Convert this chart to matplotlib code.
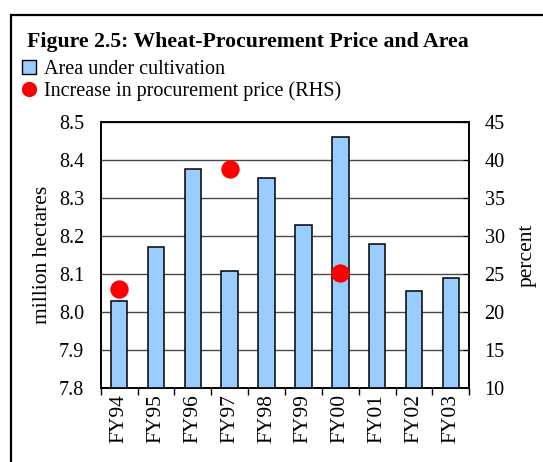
import matplotlib
matplotlib.use("Agg")
import matplotlib.pyplot as plt
import numpy as np
from matplotlib.patches import Rectangle, Patch
from matplotlib.lines import Line2D

plt.rcParams['font.family'] = ['Liberation Serif', 'DejaVu Serif']

categories = ["FY94", "FY95", "FY96", "FY97", "FY98", "FY99", "FY00", "FY01", "FY02", "FY03"]
area = [8.03, 8.17, 8.377, 8.109, 8.352, 8.229, 8.46, 8.179, 8.055, 8.09]
price_cats = ["FY94", "FY97", "FY00"]
price_increase = [23.1, 38.75, 25.1]
left_ticks = [7.8, 7.9, 8.0, 8.1, 8.2, 8.3, 8.4, 8.5]
right_ticks = [10, 15, 20, 25, 30, 35, 40, 45]

W, H = 543, 462
fig = plt.figure(figsize=(W / 100, H / 100), dpi=100)

# outer frame (only left and top visible)
fig.patches.append(Rectangle((11 / W, -0.2), 2.0, (1 - 15 / H) + 0.2,
                             transform=fig.transFigure, fill=False,
                             edgecolor='black', linewidth=1.6))

ax_l, ax_r, ax_t, ax_b = 100.7, 469.3, 121.7, 388.3
ax = fig.add_axes([ax_l / W, 1 - ax_b / H, (ax_r - ax_l) / W, (ax_b - ax_t) / H])
x = np.arange(len(categories))
ax.bar(x, area, width=0.45, color='#99CCFF', edgecolor='black', linewidth=1.1, zorder=3)
ax.set_ylim(7.8, 8.5)
ax.set_yticks(left_ticks)
ax.set_yticklabels([f"{v:.1f}" for v in left_ticks], fontsize=14.5)
ax.set_xlim(-0.5, len(categories) - 0.5)
ax.set_xticks(x)
ax.set_xticklabels(categories, rotation=90, fontsize=15.5)
ax.set_xticks(np.arange(len(categories) + 1) - 0.5, minor=True)
ax.tick_params(axis='x', which='major', length=0, pad=4)
ax.tick_params(axis='x', which='minor', length=5, direction='out', width=1)
ax.tick_params(axis='y', length=0, pad=12)
ax.yaxis.grid(True, color='#4a4a4a', linewidth=1.0, zorder=0)
ax.set_axisbelow(True)
ax.set_ylabel("million hectares", fontsize=15.5)
ax.yaxis.set_label_coords((52 - ax_l) / (ax_r - ax_l), 0.5)
for s in ax.spines.values():
    s.set_linewidth(1.2)

ax2 = ax.twinx()
ax2.set_ylim(10, 45)
ax2.set_yticks(right_ticks)
ax2.set_yticklabels([str(v) for v in right_ticks], fontsize=14.5)
ax2.tick_params(axis='y', length=4, direction='in', pad=11)
idx = [categories.index(c) for c in price_cats]
ax2.scatter(idx, price_increase, s=175, color='#FF0000', zorder=5, linewidths=0)
ax2.set_ylabel("percent", fontsize=15.5)
ax2.yaxis.set_label_coords((518 - ax_l) / (ax_r - ax_l), 0.5)
for s in ax2.spines.values():
    s.set_linewidth(1.2)

fig.text(27 / W, 1 - 42 / H, "Figure 2.5: Wheat-Procurement Price and Area",
         fontsize=15.7, fontweight='bold', va='center', ha='left')

handles = [Patch(facecolor='#99CCFF', edgecolor='black', linewidth=1.0),
           Line2D([], [], marker='o', linestyle='none', markersize=10,
                  markerfacecolor='#FF0000', markeredgecolor='#FF0000')]
fig.legend(handles, ["Area under cultivation", "Increase in procurement price (RHS)"],
           loc='upper left', bbox_to_anchor=(22 / W, 1 - 60 / H), frameon=False,
           fontsize=14.5, borderpad=0, borderaxespad=0, handlelength=0.7,
           handleheight=0.7, handletextpad=0.4, labelspacing=0.12)

fig.savefig("out.png", dpi=100)
